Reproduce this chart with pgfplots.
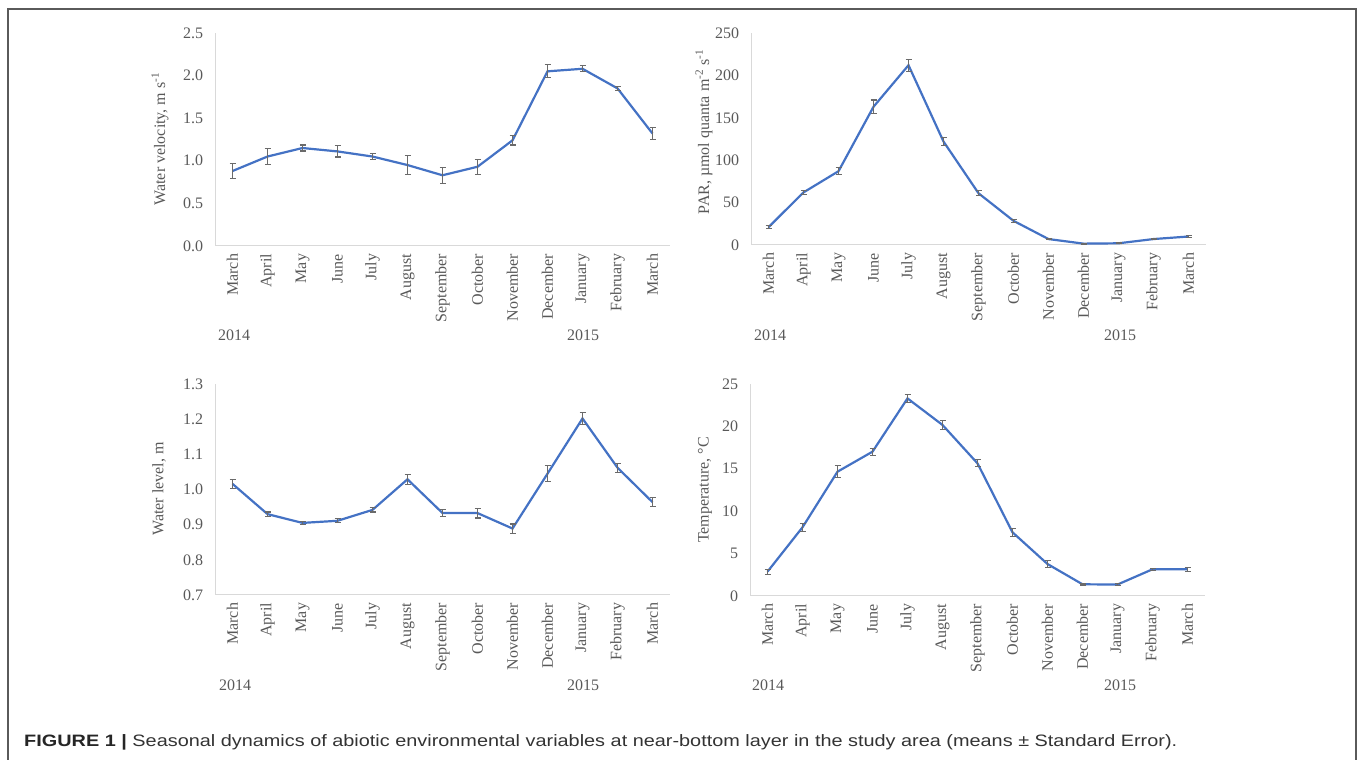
\documentclass[border=0pt]{standalone}
\usepackage{pgfplots}
\pgfplotsset{compat=1.18}
\usepackage{pgfplotstable}
\usepackage{fontspec}
\setmainfont{Liberation Serif}
\newfontfamily\capfont{Liberation Sans}
\definecolor{lineblue}{HTML}{4472C4}
\definecolor{txtgray}{HTML}{595959}
\definecolor{axgray}{HTML}{D9D9D9}
\definecolor{errgray}{HTML}{6A6A6A}
\definecolor{framegray}{HTML}{5A5A5A}
\definecolor{capgray}{HTML}{333333}

\pgfplotstableread{
x y e
0 0.88 0.09
1 1.05 0.09
2 1.15 0.035
3 1.11 0.065
4 1.05 0.035
5 0.95 0.11
6 0.83 0.095
7 0.93 0.09
8 1.24 0.055
9 2.05 0.075
10 2.08 0.035
11 1.85 0.02
12 1.32 0.07
}\velotab

\pgfplotstableread{
x y e
0 21 2
1 62 2.5
2 87 4
3 163 8
4 212 7
5 122 4.5
6 61 3
7 28.5 1.5
8 7 0.8
9 1.6 0.5
10 2 0.5
11 7 0.8
12 10 1
}\partab

\pgfplotstableread{
x y e
0 1.016 0.012
1 0.930 0.006
2 0.905 0.005
3 0.911 0.006
4 0.942 0.006
5 1.029 0.014
6 0.933 0.010
7 0.933 0.014
8 0.889 0.013
9 1.045 0.022
10 1.202 0.017
11 1.062 0.013
12 0.964 0.012
}\wlevtab

\pgfplotstableread{
x y e
0 2.87 0.3
1 8.1 0.5
2 14.66 0.7
3 17.02 0.4
4 23.3 0.45
5 20.17 0.55
6 15.64 0.42
7 7.51 0.5
8 3.77 0.38
9 1.38 0.08
10 1.35 0.08
11 3.15 0.1
12 3.15 0.25
}\temptab

\pgfplotsset{
  panel/.style={
    scale only axis, width=455pt,
    xmin=-0.5, xmax=12.5,
    xtick={0,...,12},
    xticklabels={March,April,May,June,July,August,September,October,November,December,January,February,March},
    axis x line*=bottom, axis y line*=left,
    axis line style={draw=axgray, line width=1pt},
    major tick length=0pt,
    tick label style={font=\fontsize{16}{19}\selectfont, text=txtgray},
    xticklabel style={rotate=90, anchor=east, inner xsep=8pt, inner ysep=0pt, outer sep=0pt},
    yticklabel style={anchor=east, inner xsep=12pt, inner ysep=0pt, outer sep=0pt},
    /pgf/number format/assume math mode=true,
    clip=false,
  },
  series/.style={color=lineblue, line width=2.2pt, no markers,
    error bars/.cd, y dir=both, y explicit,
    error bar style={errgray, line width=1.1pt},
    error mark options={rotate=90, errgray, mark size=3pt, line width=1.1pt}},
}

\begin{document}
\begin{tikzpicture}[x=1pt,y=1pt]
\useasboundingbox (0,0) rectangle (1358,760);
\draw[framegray, line width=2pt] (8,-10) -- (8,751) -- (1356,751) -- (1356,-10);

% top-left
\begin{axis}[panel, at={(215pt,514pt)}, anchor=south west, height=213pt,
  ymin=0, ymax=2.5, ytick={0,0.5,...,2.5},
  yticklabel style={/pgf/number format/.cd, fixed, fixed zerofill, precision=1}]
\addplot[series] table[x=x,y=y,y error=e]{\velotab};
\end{axis}

% top-right
\begin{axis}[panel, at={(751pt,515pt)}, anchor=south west, height=212pt,
  ymin=0, ymax=250, ytick={0,50,...,250}]
\addplot[series] table[x=x,y=y,y error=e]{\partab};
\end{axis}

% bottom-left
\begin{axis}[panel, at={(215pt,165pt)}, anchor=south west, height=211pt,
  ymin=0.7, ymax=1.3, ytick={0.7,0.8,...,1.3},
  yticklabel style={/pgf/number format/.cd, fixed, fixed zerofill, precision=1}]
\addplot[series] table[x=x,y=y,y error=e]{\wlevtab};
\end{axis}

% bottom-right
\begin{axis}[panel, at={(750pt,164pt)}, anchor=south west, height=212pt,
  ymin=0, ymax=25, ytick={0,5,...,25}]
\addplot[series] table[x=x,y=y,y error=e]{\temptab};
\end{axis}

\begin{scope}[every node/.style={text=txtgray, font=\fontsize{16}{19}\selectfont}]
\node[rotate=90] at (160,621) {Water velocity, m s\textsuperscript{-1}};
\node[rotate=90] at (704,628) {PAR, µmol quanta m\textsuperscript{-2} s\textsuperscript{-1}};
\node[rotate=90] at (159,271) {Water level, m};
\node[rotate=90] at (705,270) {Temperature, °C};
\node[anchor=base] at (234,419.5) {2014};
\node[anchor=base] at (583,419.5) {2015};
\node[anchor=base] at (770,419.5) {2014};
\node[anchor=base] at (1120,419.5) {2015};
\node[anchor=base] at (235,69.5) {2014};
\node[anchor=base] at (583,69.5) {2015};
\node[anchor=base] at (768,69.5) {2014};
\node[anchor=base] at (1120,69.5) {2015};
\end{scope}

\node[anchor=base west, inner sep=0pt, text=capgray] at (24,13.5)
  {\resizebox{1153pt}{\height}{\capfont\fontsize{16.5}{20}\selectfont\textcolor{black!85}{\textbf{FIGURE 1 |}} Seasonal dynamics of abiotic environmental variables at near-bottom layer in the study area (means ± Standard Error).}};
\end{tikzpicture}
\end{document}
